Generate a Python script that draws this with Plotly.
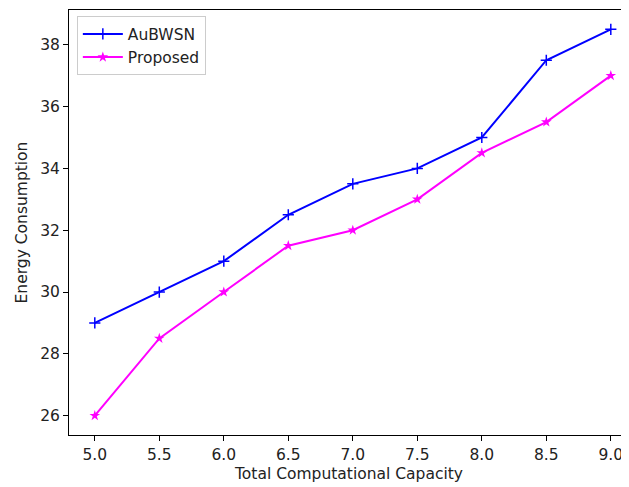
import plotly.graph_objects as go

capacity = [5.0, 5.5, 6.0, 6.5, 7.0, 7.5, 8.0, 8.5, 9.0]
aubwsn = [29, 30, 31, 32.5, 33.5, 34, 35, 37.5, 38.5]
proposed = [26, 28.5, 30, 31.5, 32, 33, 34.5, 35.5, 37]
x_ticks = [5.0, 5.5, 6.0, 6.5, 7.0, 7.5, 8.0, 8.5, 9.0]
y_ticks = [26, 28, 30, 32, 34, 36, 38]

font = "DejaVu Sans"
fs = 15.5
fig = go.Figure()
fig.add_trace(go.Scatter(
    x=capacity, y=aubwsn, name="AuBWSN", mode="lines+markers",
    line=dict(color="#0000FF", width=2),
    marker=dict(symbol="cross-thin", size=8, line=dict(color="#0000FF", width=1.5), color="#0000FF"),
))
fig.add_trace(go.Scatter(
    x=capacity, y=proposed, name="Proposed", mode="lines+markers",
    line=dict(color="#FF00FF", width=2),
    marker=dict(symbol="star", size=8, color="#FF00FF"),
))

# page body has an 8px default margin, so the figure is offset by 8px
fig.update_layout(
    width=621, height=479,
    margin=dict(l=61, r=0, t=2, b=52),
    plot_bgcolor="white", paper_bgcolor="white",
    font=dict(family=font, size=fs, color="#222222"),
    showlegend=True,
    legend=dict(
        x=0.014, y=0.985, xanchor="left", yanchor="top",
        bgcolor="rgba(255,255,255,0.8)", bordercolor="#cccccc", borderwidth=1,
        font=dict(family=font, size=fs, color="#222222"),
        tracegroupgap=2, itemwidth=40,
    ),
    xaxis=dict(
        range=[4.8, 4.8 + 560 / 129], tickvals=x_ticks, automargin=False,
        ticktext=[f"{v:.1f}" for v in x_ticks],
        showgrid=False, zeroline=False, showline=True, linecolor="black", linewidth=1,
        mirror=True, ticks="outside", ticklen=5, tickcolor="black",
        title=dict(text="Total Computational Capacity", font=dict(family=font, size=fs), standoff=5),
    ),
    yaxis=dict(
        range=[25.375, 39.125], tickvals=y_ticks, automargin=False,
        showgrid=False, zeroline=False, showline=True, linecolor="black", linewidth=1,
        mirror=False, ticks="outside", ticklen=5, tickcolor="black",
        title=dict(text="Energy Consumption", font=dict(family=font, size=fs), standoff=8),
    ),
)
fig.write_html("out.html")
